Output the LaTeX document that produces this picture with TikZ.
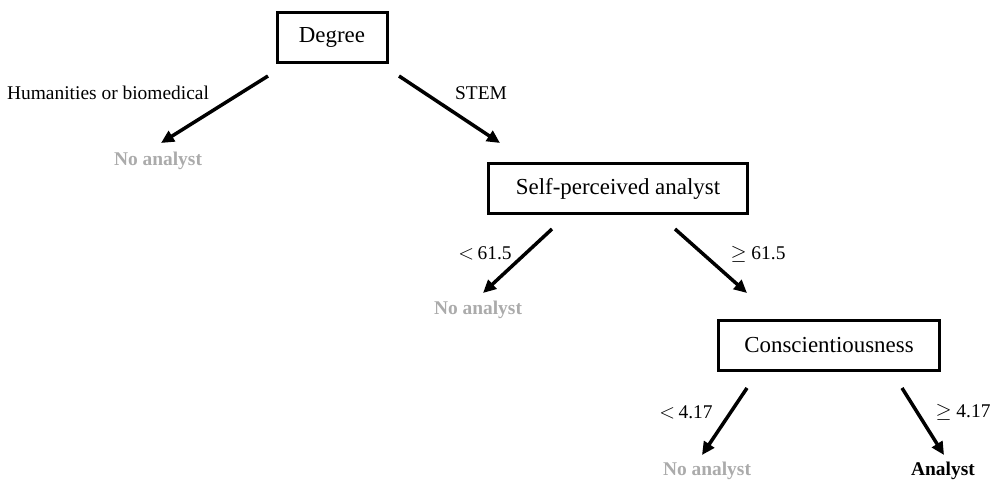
\documentclass[tikz,border=0pt]{standalone}
\usepackage{fontspec}
\setmainfont{Liberation Serif}
\usetikzlibrary{arrows.meta}
\tikzset{
  splitbox/.style={draw, line width=3bp, minimum height=50bp, inner sep=0pt,
    minimum width=#1, font=\fontsize{23}{26}\selectfont},
  branch/.style={line width=3.5bp, -{Triangle[length=13bp,width=12bp]}},
  cond/.style={font=\fontsize{19.5}{22}\selectfont},
  leafno/.style={font=\fontsize{19.5}{22}\selectfont\bfseries, text=black!33},
  leafyes/.style={font=\fontsize{19.5}{22}\selectfont\bfseries, text=black}
}
\begin{document}
\begin{tikzpicture}[x=1bp, y=-1bp]
\useasboundingbox (0,0) rectangle (995,484);
% split nodes
\node[splitbox=110bp] (degree) at (332,37.5) {Degree};
\node[splitbox=259bp] (selfp) at (618,189) {Self-perceived analyst};
\node[splitbox=221bp] (consc) at (829,345.5) {Conscientiousness};
% leaves
\node[leafno] (leafA) at (158,161) {No analyst};
\node[leafno] (leafB) at (478,310) {No analyst};
\node[leafno] (leafC) at (707,471) {No analyst};
\node[leafyes] (leafD) at (943,471) {Analyst};
% branch ends
\coordinate (degL) at (268,76);  \coordinate (degLe) at (161,143);
\coordinate (degR) at (399,76);  \coordinate (degRe) at (500,143);
\coordinate (selL) at (552,229); \coordinate (selLe) at (483,293);
\coordinate (selR) at (675,229); \coordinate (selRe) at (747,293);
\coordinate (conL) at (747,388); \coordinate (conLe) at (702,455);
\coordinate (conR) at (902,388); \coordinate (conRe) at (944,455);
\draw[branch] (degL) -- (degLe);
\draw[branch] (degR) -- (degRe);
\draw[branch] (selL) -- (selLe);
\draw[branch] (selR) -- (selRe);
\draw[branch] (conL) -- (conLe);
\draw[branch] (conR) -- (conRe);
% conditions
\node[cond] (c1) at (108,93) {Humanities or biomedical};
\node[cond] (c2) at (481,93) {STEM};
\node[cond] (c3) at (485,253) {${<}\,$61.5};
\node[cond] (c4) at (758,254) {$\geq$ 61.5};
\node[cond] (c5) at (686,412) {${<}\,$4.17};
\node[cond] (c6) at (963,412) {$\geq$ 4.17};
\end{tikzpicture}
\end{document}
